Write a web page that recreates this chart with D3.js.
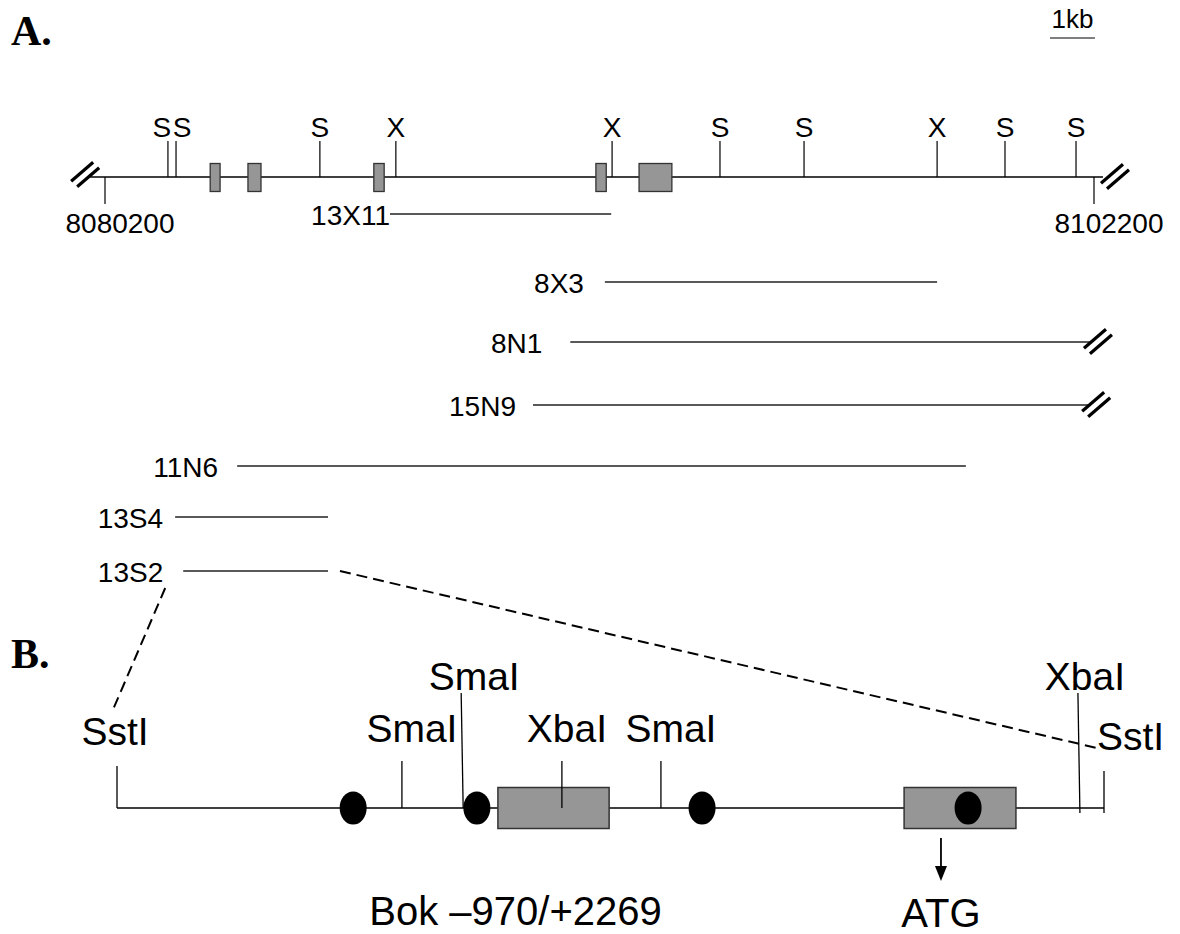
<!DOCTYPE html>
<html>
<head>
<meta charset="utf-8">
<script src="https://cdn.jsdelivr.net/npm/d3@7"></script>
<style>
body { margin: 0; background: #fff; }
svg text { font-family: "Liberation Sans", Arial, sans-serif; fill: #000; }
</style>
</head>
<body>
<div class="graphic"></div>
<script>
// ---- panel A: genomic map, chromosome coordinates (bp)
var mapStart = 8079870, mapEnd = 8102400;
var tickPos = [8080200, 8102200];
var tickLabels = ["8080200", "8102200"];
var siteNames = ["S", "S", "S", "X", "X", "S", "S", "X", "S", "S"];
var sitePos = [8081600, 8081780, 8084980, 8086670, 8091480, 8093880, 8095750, 8098710, 8100220, 8101800];
var exonStart = [8082540, 8083380, 8086180, 8091120, 8092080];
var exonEnd   = [8082760, 8083670, 8086410, 8091350, 8092810];
// genomic clones
var cloneNames = ["13X11", "8X3", "8N1", "15N9", "11N6", "13S4", "13S2"];
var cloneStart = [8086540, 8091320, 8090550, 8089720, 8083140, 8081760, 8081940];
var cloneEnd   = [8091460, 8098710, 8102110, 8102070, 8099350, 8085160, 8085160];
var cloneOpen  = [false, false, true, true, false, false, false];

// ---- panel B: promoter fragment, bp relative to Bok start
var fragStart = -970, fragEnd = 2269;
var bSiteNames = ["SstI", "SmaI", "SmaI", "XbaI", "SmaI", "XbaI", "SstI"];
var bSitePos = [-970, -35, 166, 490, 815, 2190, 2269];
var bExonStart = [280, 1613];
var bExonEnd = [645, 1980];
var bDotPos = [-195, 211, 950, 1823];
var atgPos = 1734;
var fragLabel = "Bok \u2013970/+2269";

// layout (pixels)
var W = 1180, H = 934;
var lineA = 177, siteTop = 141, exonH = 28;
var cloneY = [214, 282, 342, 405, 466, 517, 571];
var cloneGap = [0, 21, 28, 17, 19, 12, 20];
var lineB = 808, boxH = 41;
var fsA = "28px", fsB = "39px";
// label placement for panel B sites: dx, baseline, anchor, tick top, tick bottom, lean
var bLayout = [
  {dx: -2, y: 745, anchor: "middle", y1: 766, y2: 808, lean: 0},
  {dx: 10, y: 742, anchor: "middle", y1: 761, y2: 808, lean: 0},
  {dx: 11, y: 690, anchor: "middle", y1: 693, y2: 808, lean: -2},
  {dx: 5,  y: 742, anchor: "middle", y1: 761, y2: 808, lean: 0},
  {dx: 10, y: 742, anchor: "middle", y1: 761, y2: 808, lean: 0},
  {dx: 5,  y: 690, anchor: "middle", y1: 693, y2: 813, lean: -2},
  {dx: -7, y: 750, anchor: "start",  y1: 771, y2: 813, lean: 0}
];

var xA = d3.scaleLinear().domain([tickPos[0], tickPos[1]]).range([105, 1094]);
var xB = d3.scaleLinear().domain([fragStart, fragEnd]).range([117, 1104]);

var svg = d3.select(".graphic").append("svg")
  .attr("width", W).attr("height", H);

// break symbol "//"
function breakMark(cx, cy) {
  [-3, 3].forEach(function(o) {
    svg.append("line")
      .attr("x1", cx - 11 + o).attr("y1", cy + 9 + o * 0.9)
      .attr("x2", cx + 11 + o).attr("y2", cy - 10 + o * 0.9)
      .attr("stroke", "#000").attr("stroke-width", 3.2);
  });
}

// panel titles
svg.append("text").attr("x", 11).attr("y", 45).text("A.")
  .style("font-family", "'Liberation Serif', 'Times New Roman', serif")
  .style("font-weight", "bold").style("font-size", "42px");
svg.append("text").attr("x", 11).attr("y", 668).text("B.")
  .style("font-family", "'Liberation Serif', 'Times New Roman', serif")
  .style("font-weight", "bold").style("font-size", "42px");

// 1kb scale bar
var barStart = xA.invert(1050);
svg.append("line")
  .attr("x1", xA(barStart)).attr("x2", xA(barStart + 1000))
  .attr("y1", 38).attr("y2", 38)
  .attr("stroke", "#000").attr("stroke-width", 1.2);
svg.append("text")
  .attr("x", (xA(barStart) + xA(barStart + 1000)) / 2).attr("y", 28)
  .attr("text-anchor", "middle").style("font-size", "26px").text("1kb");

// main genomic line
svg.append("line")
  .attr("x1", xA(mapStart)).attr("x2", xA(mapEnd))
  .attr("y1", lineA).attr("y2", lineA)
  .attr("stroke", "#000").attr("stroke-width", 1.3);
breakMark(xA(mapStart) - 5, lineA - 2);
breakMark(xA(mapEnd) + 12, lineA);

// coordinate ticks
tickPos.forEach(function(p, i) {
  svg.append("line")
    .attr("x1", xA(p)).attr("x2", xA(p))
    .attr("y1", lineA).attr("y2", 204)
    .attr("stroke", "#000").attr("stroke-width", 1.2);
  svg.append("text")
    .attr("x", xA(p) + 15).attr("y", 233)
    .attr("text-anchor", "middle").style("font-size", fsA)
    .text(tickLabels[i]);
});

// restriction sites
var sites = svg.selectAll(".site").data(sitePos).enter().append("g").attr("class", "site");
sites.append("line")
  .attr("x1", function(d) { return xA(d); }).attr("x2", function(d) { return xA(d); })
  .attr("y1", siteTop).attr("y2", lineA)
  .attr("stroke", "#000").attr("stroke-width", 1.2);
sites.append("text")
  .attr("x", function(d, i) {
    // the two close S sites are split apart
    if (i === 0) return xA(d) - 6;
    if (i === 1) return xA(d) + 6;
    return xA(d);
  })
  .attr("y", 137)
  .attr("text-anchor", "middle").style("font-size", fsA)
  .text(function(d, i) { return siteNames[i]; });

// exons
exonStart.forEach(function(s, i) {
  svg.append("rect")
    .attr("x", xA(s)).attr("y", lineA - exonH / 2 + 0.5)
    .attr("width", xA(exonEnd[i]) - xA(s)).attr("height", exonH)
    .attr("fill", "#969696").attr("stroke", "#333").attr("stroke-width", 1.3);
});

// clones
cloneNames.forEach(function(name, i) {
  var y = cloneY[i];
  svg.append("line")
    .attr("x1", xA(cloneStart[i])).attr("x2", xA(cloneEnd[i]))
    .attr("y1", y).attr("y2", y)
    .attr("stroke", "#222").attr("stroke-width", 1.5);
  svg.append("text")
    .attr("x", xA(cloneStart[i]) - cloneGap[i]).attr("y", y + 11)
    .attr("text-anchor", "end").style("font-size", fsA)
    .text(name);
  if (cloneOpen[i]) breakMark(xA(cloneEnd[i]) + 8, y);
});

// dashed zoom lines from 13S2 to panel B
var c = cloneNames.indexOf("13S2");
svg.append("line")
  .attr("x1", xA(cloneStart[c]) - 18).attr("y1", cloneY[c] + 17)
  .attr("x2", xB(fragStart) - 5).attr("y2", 712)
  .attr("stroke", "#000").attr("stroke-width", 2).attr("stroke-dasharray", "11,6");
svg.append("line")
  .attr("x1", xA(cloneEnd[c]) + 12).attr("y1", cloneY[c])
  .attr("x2", xB(fragEnd) - 7).attr("y2", 748)
  .attr("stroke", "#000").attr("stroke-width", 2).attr("stroke-dasharray", "11,6");

// ---- panel B
svg.append("line")
  .attr("x1", xB(fragStart)).attr("x2", xB(fragEnd))
  .attr("y1", lineB).attr("y2", lineB)
  .attr("stroke", "#000").attr("stroke-width", 1.3);

bExonStart.forEach(function(s, i) {
  svg.append("rect")
    .attr("x", xB(s)).attr("y", lineB - boxH / 2)
    .attr("width", xB(bExonEnd[i]) - xB(s)).attr("height", boxH)
    .attr("fill", "#969696").attr("stroke", "#333").attr("stroke-width", 1.5);
});

svg.selectAll(".dot").data(bDotPos).enter().append("ellipse")
  .attr("class", "dot")
  .attr("cx", function(d) { return xB(d); }).attr("cy", lineB)
  .attr("rx", 13.5).attr("ry", 16.5)
  .attr("fill", "#000");

bSitePos.forEach(function(p, i) {
  var L = bLayout[i];
  svg.append("line")
    .attr("x1", xB(p) + L.lean).attr("y1", L.y1)
    .attr("x2", xB(p)).attr("y2", L.y2)
    .attr("stroke", "#000").attr("stroke-width", 1.3);
  svg.append("text")
    .attr("x", xB(p) + L.dx).attr("y", L.y)
    .attr("text-anchor", L.anchor).style("font-size", fsB)
    .text(bSiteNames[i]);
});

// ATG arrow
svg.append("line")
  .attr("x1", xB(atgPos)).attr("x2", xB(atgPos))
  .attr("y1", 838).attr("y2", 868)
  .attr("stroke", "#000").attr("stroke-width", 1.8);
svg.append("path")
  .attr("d", "M" + (xB(atgPos) - 6) + ",866 L" + (xB(atgPos) + 6) + ",866 L" + xB(atgPos) + ",881 Z")
  .attr("fill", "#000");
svg.append("text")
  .attr("x", xB(atgPos)).attr("y", 927)
  .attr("text-anchor", "middle").style("font-size", "40px").text("ATG");

svg.append("text")
  .attr("x", (xB(fragStart) + xB(fragEnd)) / 2 - 95).attr("y", 925)
  .attr("text-anchor", "middle").style("font-size", "40px").text(fragLabel);
</script>
</body>
</html>
